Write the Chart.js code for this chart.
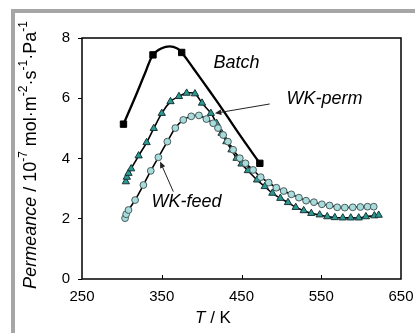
<!DOCTYPE html>
<html>
<head>
<meta charset="utf-8">
<script src="https://cdn.jsdelivr.net/npm/chart.js@4.4.1/dist/chart.umd.min.js"></script>
<style>
	html, body { margin: 0; padding: 0; background: #fff; }
	#wrap { width: 415px; height: 333px; }
</style>
</head>
<body>
<div id="wrap"><canvas id="myChart" width="415" height="333"></canvas></div>
<script>
// values (T in K, permeance in 1e-7 mol m-2 s-1 Pa-1)
var batchT = [302, 339, 375, 473];
var batchP = [5.14, 7.44, 7.52, 3.84];

// the fitted batch curve
var batchCurveT = [302, 317, 329, 339, 350, 360, 369, 375, 390, 410, 430, 450, 473];
var batchCurveP = [5.14, 6.06, 6.83, 7.44, 7.66, 7.72, 7.66, 7.52, 6.98, 6.24, 5.48, 4.70, 3.84];

var permT = [305, 306.2, 308.3, 311.6, 321, 331, 340, 350, 361, 371.6, 381.2, 391.6, 400.5, 411.6, 418.7, 425, 431, 437.5, 443.8, 450, 458, 469.5, 479.1, 488.7, 498.7, 508.3, 518, 528, 537.5, 548, 557.5, 567, 577, 587, 597, 606, 616.6, 622];
var permP = [3.23, 3.38, 3.51, 3.66, 4.09, 4.53, 5.0, 5.50, 5.89, 6.06, 6.17, 6.15, 5.84, 5.50, 5.17, 4.84, 4.56, 4.29, 4.01, 3.82, 3.60, 3.29, 3.07, 2.85, 2.68, 2.54, 2.38, 2.27, 2.18, 2.13, 2.07, 2.04, 2.03, 2.03, 2.03, 2.07, 2.10, 2.12];

var feedT = [304, 305.4, 308.3, 316.6, 327, 336.2, 345.8, 357, 367, 377, 387, 396.6, 406, 414.5, 420.5, 427, 433, 439.5, 447.9, 455, 464.5, 474.1, 484.1, 493.7, 502.9, 512.5, 522, 531, 540.8, 550.8, 560.4, 570, 579.5, 589.5, 599, 608, 615.8];
var feedP = [2.02, 2.15, 2.29, 2.62, 3.12, 3.59, 4.04, 4.56, 5.01, 5.28, 5.40, 5.43, 5.31, 5.17, 5.01, 4.78, 4.56, 4.29, 4.01, 3.84, 3.62, 3.38, 3.20, 3.03, 2.92, 2.81, 2.70, 2.60, 2.55, 2.48, 2.44, 2.38, 2.37, 2.38, 2.39, 2.40, 2.40];

var xTicks = [250, 350, 450, 550, 650];
var yTicks = [0, 2, 4, 6, 8];

// text labels and their arrows, in data units
var labels = [
	{text: "Batch", x: 443.7, y: 7.18},
	{text: "WK-perm", x: 554, y: 5.98},
	{text: "WK-feed", x: 381, y: 2.57}
];
var arrows = [
	{from: [485.4, 5.81], to: [416.6, 5.50]},
	{from: [364.5, 2.90], to: [347.9, 3.90]}
];

var FONT = "'Liberation Sans', Arial, sans-serif";

function pts(xs, ys){
	var out = [];
	for (var i = 0; i < xs.length; i++){
		out.push({x: xs[i], y: ys[i]});
	}
	return out;
}

function drawArrow(ctx, x1, y1, x2, y2){
	var ang = Math.atan2(y2 - y1, x2 - x1);
	ctx.beginPath();
	ctx.moveTo(x1, y1);
	ctx.lineTo(x2 - 5 * Math.cos(ang), y2 - 5 * Math.sin(ang));
	ctx.stroke();
	ctx.beginPath();
	ctx.moveTo(x2, y2);
	ctx.lineTo(x2 - 7 * Math.cos(ang - 0.4), y2 - 7 * Math.sin(ang - 0.4));
	ctx.lineTo(x2 - 7 * Math.cos(ang + 0.4), y2 - 7 * Math.sin(ang + 0.4));
	ctx.closePath();
	ctx.fill();
}

var decor = {
	id: "decor",
	afterDraw: function(chart){
		var ctx = chart.ctx, ca = chart.chartArea;
		var sx = chart.scales.x, sy = chart.scales.y;
		ctx.save();

		// plot box
		ctx.strokeStyle = "#000";
		ctx.lineWidth = 1.5;
		ctx.strokeRect(ca.left, ca.top, ca.right - ca.left, ca.bottom - ca.top);

		// inward ticks on x
		ctx.lineWidth = 1;
		for (var i = 1; i < xTicks.length - 1; i++){
			var px = Math.round(sx.getPixelForValue(xTicks[i])) + 0.5;
			ctx.beginPath();
			ctx.moveTo(px, ca.bottom);
			ctx.lineTo(px, ca.bottom - 4);
			ctx.stroke();
		}

		// x title: T / K
		ctx.fillStyle = "#000";
		ctx.textBaseline = "middle";
		ctx.font = "italic 17px " + FONT;
		var w1 = ctx.measureText("T").width;
		ctx.font = "17px " + FONT;
		var w2 = ctx.measureText(" / K").width;
		var tx = 213 - (w1 + w2) / 2;
		ctx.textAlign = "left";
		ctx.font = "italic 17px " + FONT;
		ctx.fillText("T", tx, 318);
		ctx.font = "17px " + FONT;
		ctx.fillText(" / K", tx + w1, 318);

		// y title with superscripts
		var parts = [
			["Permeance", "italic 18px", 0],
			[" / 10", "18px", 0],
			["-7", "12px", -7],
			[" mol·m", "18px", 0],
			["-2", "12px", -7],
			["·s", "18px", 0],
			["-1", "12px", -7],
			["·Pa", "18px", 0],
			["-1", "12px", -7]
		];
		var total = 0;
		parts.forEach(function(p){
			ctx.font = p[1] + " " + FONT;
			p.push(ctx.measureText(p[0]).width);
			total += p[3];
		});
		ctx.translate(31, 155);
		ctx.rotate(-Math.PI / 2);
		var cx = -total / 2;
		parts.forEach(function(p){
			ctx.font = p[1] + " " + FONT;
			ctx.fillText(p[0], cx, p[2]);
			cx += p[3];
		});
		ctx.setTransform(1, 0, 0, 1, 0, 0);

		// series labels
		ctx.font = "italic 18px " + FONT;
		ctx.textAlign = "center";
		labels.forEach(function(l){
			ctx.fillText(l.text, sx.getPixelForValue(l.x), sy.getPixelForValue(l.y));
		});

		// arrows
		ctx.lineWidth = 1;
		ctx.strokeStyle = "#222";
		ctx.fillStyle = "#222";
		arrows.forEach(function(a){
			drawArrow(ctx, sx.getPixelForValue(a.from[0]), sy.getPixelForValue(a.from[1]),
				sx.getPixelForValue(a.to[0]), sy.getPixelForValue(a.to[1]));
		});

		// grey frame of the figure
		ctx.fillStyle = "#a6a6a6";
		ctx.fillRect(11, 9, 415 - 11, 4);
		ctx.fillRect(11, 9, 4, 333 - 9);

		ctx.restore();
	}
};

var ctx = document.getElementById("myChart").getContext("2d");
var myChart = new Chart(ctx, {
	type: "scatter",
	data: {
		datasets: [
			{
				data: pts(batchCurveT, batchCurveP),
				showLine: true,
				borderColor: "#000",
				borderWidth: 2.3,
				tension: 0.4,
				pointRadius: 0
			},
			{
				data: pts(batchT, batchP),
				showLine: false,
				pointStyle: "rect",
				pointRadius: 4.5,
				pointBackgroundColor: "#000",
				pointBorderColor: "#000",
				pointBorderWidth: 1
			},
			{
				data: pts(feedT, feedP),
				showLine: true,
				borderColor: "#000",
				borderWidth: 1.6,
				tension: 0.4,
				pointStyle: "circle",
				pointRadius: 3.4,
				pointBackgroundColor: "#a8dcdc",
				pointBorderColor: "#4a5a5a",
				pointBorderWidth: 1
			},
			{
				data: pts(permT, permP),
				showLine: true,
				borderColor: "#000",
				borderWidth: 1.6,
				tension: 0.4,
				pointStyle: "triangle",
				pointRadius: 4.2,
				pointBackgroundColor: "#2a9a94",
				pointBorderColor: "#1a3333",
				pointBorderWidth: 1
			}
		]
	},
	options: {
		responsive: false,
		animation: false,
		events: [],
		layout: {padding: {top: 38, right: 14, left: 0, bottom: 0}},
		plugins: {legend: {display: false}, tooltip: {enabled: false}},
		scales: {
			x: {
				type: "linear",
				min: 250,
				max: 650,
				afterFit: function(s){ s.height = 54; s.paddingLeft = 0; s.paddingRight = 0; },
				afterBuildTicks: function(s){ s.ticks = xTicks.map(function(v){ return {value: v}; }); },
				grid: {drawOnChartArea: false, drawTicks: false},
				border: {display: false},
				ticks: {padding: 9, color: "#000", maxRotation: 0, font: {family: FONT, size: 15}}
			},
			y: {
				min: 0,
				max: 8,
				afterFit: function(s){ s.width = 82; s.paddingTop = 0; s.paddingBottom = 0; },
				afterBuildTicks: function(s){ s.ticks = yTicks.map(function(v){ return {value: v}; }); },
				grid: {drawOnChartArea: false, drawTicks: true, tickLength: 4, color: "#000"},
				border: {display: false},
				ticks: {padding: 8, color: "#000", font: {family: FONT, size: 15}}
			}
		}
	},
	plugins: [decor]
});
</script>
</body>
</html>
